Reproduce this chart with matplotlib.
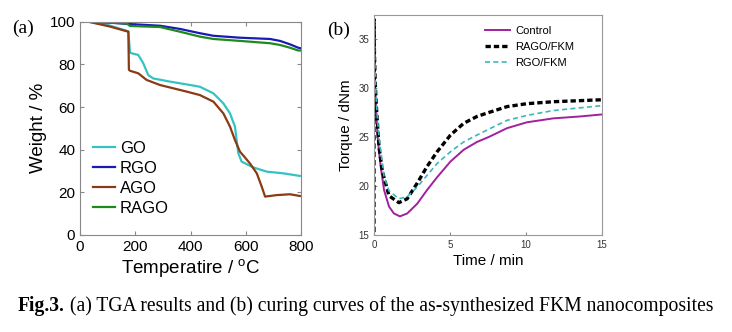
import matplotlib
matplotlib.use("Agg")
import matplotlib.pyplot as plt

# (a) TGA curves, temperature in C, weight in %
go_t = [30, 100, 175, 181, 187, 211, 229, 247, 265, 326, 400, 434, 483, 519, 543, 561, 567, 573, 585, 627, 676, 736, 796]
go_w = [100, 98.5, 95.5, 85.4, 85.2, 84.4, 80.5, 75.0, 73.4, 71.9, 70.3, 69.5, 66.4, 61.7, 57.0, 50.8, 44.5, 38.3, 34.4, 31.7, 29.7, 28.9, 27.7]

rgo_t = [30, 100, 181, 290, 362, 434, 483, 579, 688, 724, 760, 790, 800]
rgo_w = [100, 99.6, 98.9, 98.1, 96.6, 94.6, 93.4, 92.5, 91.9, 91.0, 89.4, 87.8, 87.5]

ago_t = [30, 109, 175, 177, 181, 211, 241, 290, 387, 434, 483, 519, 543, 561, 579, 615, 640, 658, 670, 712, 760, 796]
ago_w = [100, 97.7, 95.3, 77.5, 77.0, 75.8, 72.7, 70.3, 67.2, 65.6, 62.5, 57.0, 50.8, 44.5, 39.1, 33.6, 28.9, 22.6, 18.0, 18.7, 19.1, 18.3]

rago_t = [30, 169, 181, 290, 362, 434, 483, 579, 688, 724, 760, 790, 800]
rago_w = [100, 99.2, 98.0, 97.5, 95.3, 93.0, 91.9, 91.0, 89.9, 89.1, 87.8, 86.5, 86.5]

# (b) curing curves, time in min, torque in dNm
ctl_t = [0, 0, 0.03, 0.08, 0.15, 0.22, 0.33, 0.44, 0.66, 0.99, 1.31, 1.71, 2.19, 2.85, 3.5, 4.16, 5.04, 5.91, 6.79, 7.56, 8.76, 10.07, 11.8, 13.6, 15]
ctl_q = [15.3, 36.5, 33.0, 30.0, 27.5, 25.5, 23.5, 22.0, 19.6, 17.9, 17.2, 16.9, 17.2, 18.2, 19.6, 20.9, 22.5, 23.7, 24.5, 25.0, 25.9, 26.5, 26.9, 27.1, 27.3]

rago_fkm_t = [0, 0, 0.03, 0.08, 0.15, 0.22, 0.33, 0.55, 0.99, 1.64, 2.19, 2.85, 3.5, 4.16, 5.04, 5.91, 6.79, 7.56, 8.76, 10.07, 11.8, 15]
rago_fkm_q = [15.3, 37.0, 33.5, 30.5, 28.3, 26.5, 24.0, 21.5, 19.0, 18.3, 18.7, 20.3, 22.0, 23.5, 25.2, 26.4, 27.1, 27.5, 28.1, 28.4, 28.6, 28.8]

rgo_fkm_t = [0, 0, 0.03, 0.08, 0.15, 0.22, 0.33, 0.66, 0.99, 1.64, 2.19, 2.85, 3.5, 4.16, 5.04, 5.91, 6.79, 7.56, 8.76, 10.07, 11.8, 15]
rgo_fkm_q = [15.3, 37.5, 34.0, 31.0, 28.8, 27.0, 25.0, 21.0, 19.5, 18.7, 18.9, 19.9, 21.1, 22.3, 23.5, 24.5, 25.2, 25.8, 26.7, 27.2, 27.7, 28.2]

plt.rcParams['font.family'] = ['Liberation Sans', 'DejaVu Sans']

fig = plt.figure(figsize=(7.32, 3.32), dpi=100)

# panel (a)
ax1 = fig.add_axes([80/732, 97/332, 221/732, 213.3/332])
ax1.plot(go_t, go_w, color='#35c2c2', lw=1.6, label='GO')
ax1.plot(rgo_t, rgo_w, color='#1a1ab4', lw=1.6, label='RGO')
ax1.plot(ago_t, ago_w, color='#8b3a14', lw=1.6, label='AGO')
ax1.plot(rago_t, rago_w, color='#1e8a1e', lw=1.6, label='RAGO')
ax1.set_xlim(0, 800)
ax1.set_ylim(0, 100)
ax1.set_xticks([0, 200, 400, 600, 800])
ax1.set_yticks([0, 20, 40, 60, 80, 100])
ax1.tick_params(direction='in', top=True, right=True, labelsize=11, length=3, color='#888888')
for s in ax1.spines.values():
    s.set_color('#888888')
ax1.set_xlabel('Temperatire / $\\mathregular{^{o}}$C', fontsize=13.5, labelpad=2)
ax1.set_ylabel('Weight / %', fontsize=13.5, labelpad=2)
ax1.legend(loc='lower left', bbox_to_anchor=(0.03, 0.06), frameon=False, fontsize=12,
           handlelength=1.3, handletextpad=0.3, labelspacing=0.3, borderaxespad=0)

# panel (b)
ax2 = fig.add_axes([374/732, 97/332, 227.7/732, 220/332])
ax2.plot(ctl_t, ctl_q, color='#a0209f', lw=1.4, label='Control')
ax2.plot(rago_fkm_t, rago_fkm_q, color='black', lw=2.4, ls=(0, (1.6, 0.9)), label='RAGO/FKM')
ax2.plot(rgo_fkm_t, rgo_fkm_q, color='#3ab8b8', lw=1.2, ls=(0, (3, 2)), label='RGO/FKM')
ax2.set_xlim(0, 15)
ax2.set_ylim(15, 37.45)
ax2.set_xticks([0, 5, 10, 15])
ax2.set_yticks([15, 20, 25, 30, 35])
ax2.tick_params(direction='in', labelsize=7, length=2, color='#888888', labelcolor='#333333')
for s in ax2.spines.values():
    s.set_color('#999999')
ax2.set_xlabel('Time / min', fontsize=11, labelpad=3)
ax2.set_ylabel('Torque / dNm', fontsize=11, labelpad=4)
ax2.legend(loc='upper left', bbox_to_anchor=(0.47, 0.97), frameon=False, fontsize=8,
           handlelength=2.2, handletextpad=0.5, labelspacing=0.55, borderaxespad=0)

# panel letters
fig.text(12/732, 1 - 28/332, '(a)', family='Liberation Serif', fontsize=14, va='center')
fig.text(327/732, 1 - 30/332, '(b)', family='Liberation Serif', fontsize=14, va='center')

# caption
t1 = fig.text(18/732, 1 - 311/332, 'Fig.3.', family='Liberation Serif', fontsize=14.1,
              fontweight='bold', va='baseline')
ax1.annotate(' (a) TGA results and (b) curing curves of the as-synthesized FKM nanocomposites',
             xy=(1, 0), xycoords=t1, va='bottom', ha='left', family='Liberation Serif',
             fontsize=14.1, annotation_clip=False)

fig.savefig('out.png', dpi=100)
